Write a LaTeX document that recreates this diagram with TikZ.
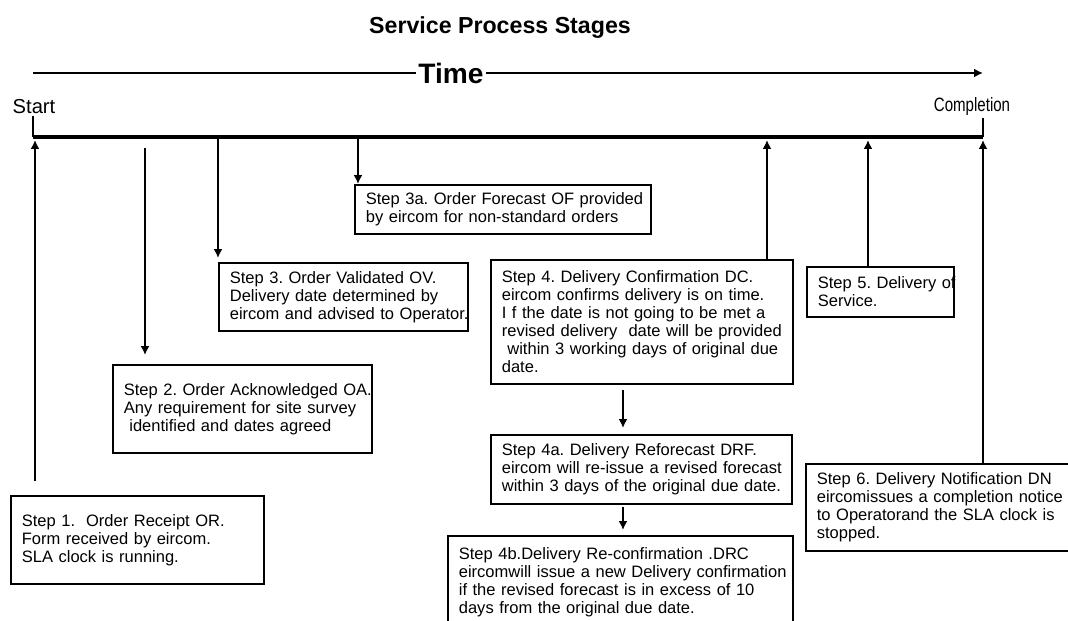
\documentclass[tikz,border=0pt]{standalone}
\usepackage{fontspec}
\setmainfont{Liberation Sans}
\frenchspacing
\usetikzlibrary{positioning,arrows.meta}
\tikzstyle{block} = [rectangle, draw, line width=1pt, fill=white, align=left,
anchor=north west, inner xsep=0.22cm, inner ysep=0pt, font=\fontsize{9.4}{10.2}\selectfont]
\tikzstyle{line} = [draw, line width=1.6pt, -{Latex[length=5pt,width=5pt]}]
\tikzstyle{endlabel} = [inner sep=1pt]

\begin{document}
\begin{tikzpicture}[x=0.02cm, y=-0.02cm]
\useasboundingbox (0,0) rectangle (1068,621);
    % heading and time axis
   \node [font=\fontsize{13.2}{15}\selectfont\bfseries] (title) at (500,28) {Service Process Stages};
   \coordinate (tl) at (33,73);
   \coordinate (tr) at (983,73);
   \node [fill=white, inner sep=1pt, font=\fontsize{16}{18}\selectfont\bfseries] (time) at (451,73) {Time};
   \node [endlabel, font=\fontsize{11.5}{13}\selectfont] (start) at (34,107) {Start};
   \node [endlabel, font=\fontsize{11}{13}\selectfont] (compl) at (972,107) {\scalebox{0.78}[1]{Completion}};
   \coordinate (bl) at (33,137);
   \coordinate (br) at (983,137);
    % points on the bar
   \coordinate (b1) at (35,140);
   \coordinate (b2) at (145,148);
   \coordinate (b3) at (218,139);
   \coordinate (b3a) at (358,139);
   \coordinate (b4) at (767,140);
   \coordinate (b5) at (868,140);
   \coordinate (b6) at (983,140);
   \coordinate (m4) at (623,400);
    % nodes
   \node [block, text width=4.62cm, minimum height=1.76cm] (s1) at (10,495) {Step 1.~ Order Receipt OR.\\ Form received by eircom.\\ SLA clock is running.};
   \node [block, text width=4.74cm, minimum height=1.76cm] (s2) at (112,364) {\mbox{Step 2. Order Acknowledged OA.}\\ \mbox{Any requirement for site survey}\\ ~identified and dates agreed};
   \node [block, text width=4.54cm, minimum height=1.36cm] (s3) at (218,262) {Step 3. Order Validated OV.\\ Delivery date determined by\\ \mbox{eircom and advised to Operator.}};
   \node [block, text width=5.48cm, minimum height=0.98cm] (s3a) at (354,184) {\mbox{Step 3a. Order Forecast OF provided}\\ by eircom for non-standard orders};
   \node [block, text width=5.6cm, minimum height=2.48cm] (s4) at (490,259) {Step 4. Delivery Confirmation DC.\\ \mbox{eircom confirms delivery is on time.}\\ I f the date is not going to be met a\\ \mbox{revised delivery~ date will be provided}\\ \mbox{~within 3 working days of original due}\\ date.};
   \node [block, text width=2.5cm, minimum height=1.0cm] (s5) at (806,266) {\mbox{Step 5. Delivery of}\\ Service.};
   \node [block, text width=4.86cm, minimum height=1.74cm] (s6) at (805,463) {Step 6. Delivery Notification DN\\ \mbox{eircomissues a completion notice}\\ \mbox{to Operatorand the SLA clock is}\\ stopped.};
   \node [block, text width=5.58cm, minimum height=1.38cm] (s4a) at (490,434) {Step 4a. Delivery Reforecast DRF.\\ \mbox{eircom will re-issue a revised forecast}\\ \mbox{within 3 days of the original due date.}};
   \node [block, text width=6.46cm, minimum height=1.84cm] (s4b) at (447,535) {Step 4b.Delivery Re-confirmation .DRC\\ \mbox{eircomwill issue a new Delivery confirmation}\\ if the revised forecast is in excess of 10\\ days from the original due date.};

    % edges
          \draw [line width=1.6pt] (tl) -- (time);
          \path [line] (time) -- (tr);
          \draw [line width=2.6pt] (bl) -- (br);
          \draw [line width=1.6pt] (bl) -- (bl |- start.south);
          \draw [line width=1.6pt] (br) -- (br |- compl.south);
          \path [line, shorten <=0.28cm] (b1 |- s1.north) -- (b1);
          \path [line, shorten >=0.18cm] (b2) -- (b2 |- s2.north);
          \path [line, shorten >=0.08cm] (b3) -- (b3 |- s3.north);
          \path [line] (b3a) -- (b3a |- s3a.north);
          \path [line] (b4 |- s4.north) -- (b4);
          \path [line] (b5 |- s5.north) -- (b5);
          \path [line] (b6 |- s6.north) -- (b6);
          \path [line, shorten <=0.1cm, shorten >=0.12cm] (s4.south -| m4) -- (s4a.north -| m4);
          \path [line, shorten <=0.04cm, shorten >=0.1cm] (s4a.south -| m4) -- (s4b.north -| m4);

  \end{tikzpicture}
\end{document}
